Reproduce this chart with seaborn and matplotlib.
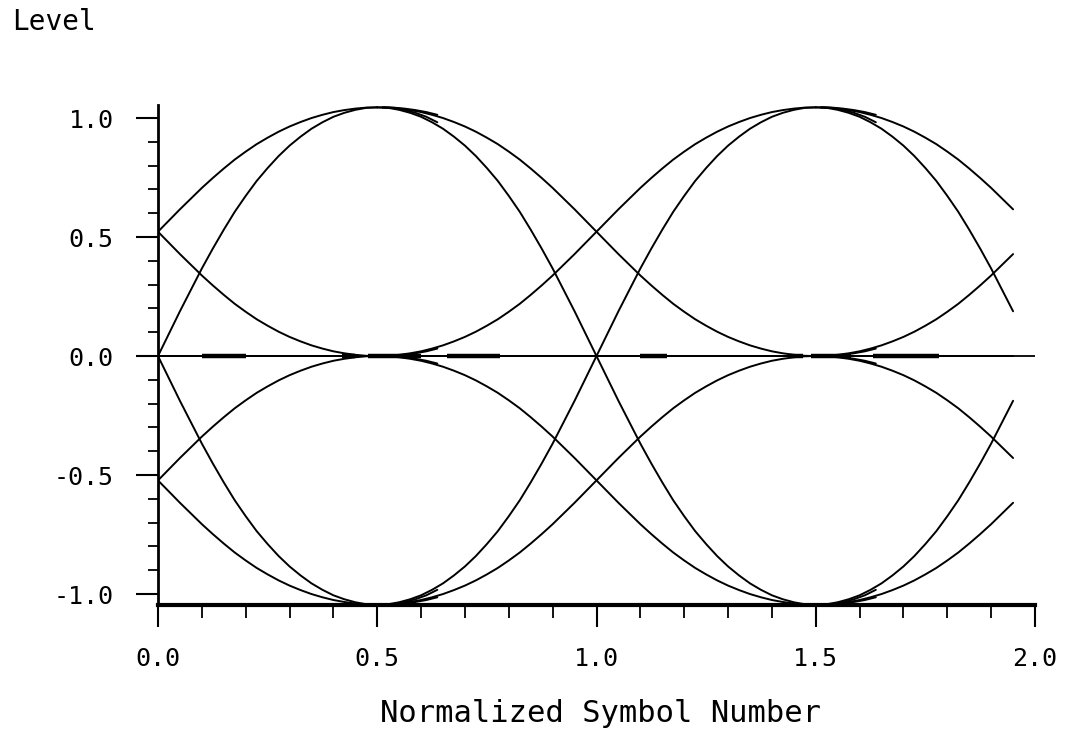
import numpy as np
import pandas as pd
import matplotlib
matplotlib.use("Agg")
import matplotlib.pyplot as plt
from matplotlib.ticker import FixedLocator, FixedFormatter, MultipleLocator
import seaborn as sns

# AMI (bipolar) signal levels at the sampling instants
level_names = ["+1", "0", "-1"]
level_values = [1.045, 0.0, -1.045]

# symbol-to-symbol transitions present in the record (from, to)
transition_from = ["0", "0", "+1", "-1", "+1", "-1", "0"]
transition_to = ["+1", "-1", "0", "0", "-1", "+1", "0"]

# sampling instants that open each symbol interval, in symbol periods
interval_start = [-0.5, 0.5, 1.5]
record_start = 0.0
record_end = 1.95

# step response over one symbol period: phase and completed fraction of the level change
step_phase = [0.000, 0.025, 0.050, 0.075, 0.100, 0.125, 0.150, 0.175, 0.200, 0.225,
              0.250, 0.275, 0.300, 0.325, 0.350, 0.375, 0.400, 0.425, 0.450, 0.475,
              0.500, 0.525, 0.550, 0.575, 0.600, 0.625, 0.650, 0.675, 0.700, 0.725,
              0.750, 0.775, 0.800, 0.825, 0.850, 0.875, 0.900, 0.925, 0.950, 0.975,
              1.000]
step_fraction = [0.000, 0.001, 0.005, 0.011, 0.019, 0.030, 0.043, 0.059, 0.077, 0.098,
                 0.122, 0.148, 0.178, 0.210, 0.246, 0.284, 0.324, 0.367, 0.410, 0.455,
                 0.500, 0.545, 0.590, 0.633, 0.676, 0.716, 0.754, 0.790, 0.822, 0.852,
                 0.878, 0.902, 0.923, 0.941, 0.957, 0.970, 0.981, 0.989, 0.995, 0.999,
                 1.000]

# timing-jitter copies of the traces just after the sampling instants
jitter_shift = [0.012]
jitter_span = 0.125

# stretches of the zero level where many traces pile up
zero_pile_start = [0.10, 0.42, 0.48, 0.66, 1.10, 1.44, 1.49, 1.63]
zero_pile_end = [0.20, 0.45, 0.60, 0.78, 1.16, 1.47, 1.58, 1.78]

# axis ticks
x_major = [0.0, 0.5, 1.0, 1.5, 2.0]
x_labels = ["0.0", "0.5", "1.0", "1.5", "2.0"]
y_major = [-1.0, -0.5, 0.0, 0.5, 1.0]
y_labels = ["-1.0", "-0.5", "0.0", "0.5", "1.0"]

level = dict(zip(level_names, level_values))
phase = np.array(step_phase)
frac = np.array(step_fraction)

rows = []
trace_id = 0
for s in interval_start:
    for a, b in zip(transition_from, transition_to):
        p, q = level[a], level[b]
        x = s + phase
        y = p + (q - p) * frac
        keep = (x >= record_start - 1e-9) & (x <= record_end + 1e-9)
        for xi, yi in zip(x[keep], y[keep]):
            rows.append((trace_id, xi, yi))
        trace_id += 1
        if a == b or s < record_start:
            continue
        for d in jitter_shift:
            sel = phase <= jitter_span + 1e-9
            for xi, yi in zip(s + phase[sel] + d, (p + (q - p) * frac)[sel]):
                rows.append((trace_id, xi, yi))
            trace_id += 1

traces = pd.DataFrame(rows, columns=["trace", "x", "y"])

sns.set_theme(style="white")
plt.rcParams["font.family"] = ["DejaVu Sans Mono"]
plt.rcParams["axes.unicode_minus"] = False

fig = plt.figure(figsize=(10.69, 7.31), dpi=100)
ax = fig.add_axes([0.1478, 0.1724, 0.8204, 0.684])

ax.axhline(0.0, xmin=0, xmax=1, color="black", lw=1.3, zorder=2)
sns.lineplot(data=traces, x="x", y="y", units="trace", estimator=None, sort=False,
             color="black", linewidth=1.4, legend=False, ax=ax, zorder=3)
ax.hlines(np.zeros(len(zero_pile_start)), zero_pile_start, zero_pile_end,
          color="black", lw=3.2, zorder=4)

ax.set_xlim(0.0, 2.0)
ax.set_ylim(-1.046, 1.055)

sns.despine(ax=ax)
ax.spines["left"].set_linewidth(2.0)
ax.spines["bottom"].set_linewidth(3.0)
ax.spines["left"].set_color("black")
ax.spines["bottom"].set_color("black")

ax.xaxis.set_major_locator(FixedLocator(x_major))
ax.xaxis.set_major_formatter(FixedFormatter(x_labels))
ax.xaxis.set_minor_locator(MultipleLocator(0.1))
ax.yaxis.set_major_locator(FixedLocator(y_major))
ax.yaxis.set_major_formatter(FixedFormatter(y_labels))
ax.yaxis.set_minor_locator(MultipleLocator(0.1))

ax.tick_params(axis="both", which="both", direction="out", colors="black",
               bottom=True, left=True, labelsize=18)
ax.tick_params(axis="y", which="major", length=16, width=1.5, pad=16)
ax.tick_params(axis="y", which="minor", length=7, width=1.3)
ax.tick_params(axis="x", which="major", length=16, width=1.5, pad=14)
ax.tick_params(axis="x", which="minor", length=9, width=1.3)

ax.set_xlabel("Normalized Symbol Number", fontsize=22, color="black", va="baseline")
ax.xaxis.set_label_coords(0.504, -0.234)
ax.set_ylabel("Level", fontsize=20, color="black", rotation=0, ha="left", va="center")
ax.yaxis.set_label_coords(-0.1665, 1.165)

fig.savefig("out.png", dpi=100)
